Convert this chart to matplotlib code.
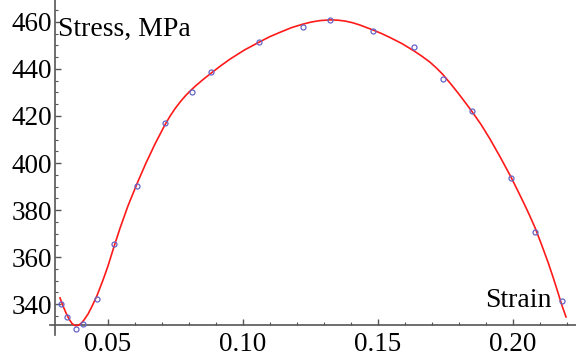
import matplotlib
matplotlib.use("Agg")
import matplotlib.pyplot as plt
from matplotlib.ticker import FixedLocator

plt.rcParams['font.family'] = ['Liberation Serif', 'DejaVu Serif']

# measured points (strain, stress MPa)
strain_pts = [0.0326, 0.0347, 0.0381, 0.0409, 0.0461, 0.0522, 0.0606, 0.0712,
              0.0810, 0.0881, 0.1060, 0.1223, 0.1322, 0.1483, 0.1634, 0.1740,
              0.1847, 0.1992, 0.2081, 0.2180]
stress_pts = [340.0, 334.5, 329.4, 331.7, 342.0, 365.5, 390.2, 417.1,
              430.1, 438.6, 451.6, 457.7, 460.9, 456.2, 449.2, 435.6,
              422.1, 393.7, 370.5, 341.3]

# fitted curve
strain_fit = [0.03222, 0.03333, 0.03444, 0.03556, 0.03667, 0.03778, 0.03889, 0.04000,
              0.04111, 0.04259, 0.04407, 0.04593, 0.04815, 0.05000, 0.05222, 0.05444,
              0.05741, 0.06074, 0.06407, 0.06741, 0.07111, 0.07296, 0.07481, 0.07667,
              0.07852, 0.08037, 0.08222, 0.08519, 0.08815, 0.09167, 0.09519, 0.10056,
              0.10593, 0.10981, 0.11370, 0.11796, 0.12222, 0.12537, 0.12852, 0.13222,
              0.13500, 0.13778, 0.14056, 0.14333, 0.14815, 0.15130, 0.15444, 0.15889,
              0.16333, 0.16630, 0.16926, 0.17167, 0.17407, 0.17685, 0.17963, 0.18222,
              0.18481, 0.18815, 0.19148, 0.19537, 0.19926, 0.20185, 0.20444, 0.20630,
              0.20815, 0.21056, 0.21296, 0.21481, 0.21667, 0.21815, 0.21963]
stress_fit = [342.6, 339.2, 336.2, 333.6, 331.7, 330.8, 330.9, 331.7,
              333.2, 335.7, 339.0, 343.6, 350.2, 356.2, 364.4, 372.2,
              381.8, 391.2, 400.0, 408.1, 416.3, 419.9, 423.1, 425.9,
              428.4, 430.6, 432.6, 435.5, 438.2, 441.3, 444.2, 448.1,
              451.4, 453.7, 455.6, 457.6, 459.1, 460.0, 460.6, 460.9,
              460.8, 460.4, 459.7, 458.7, 456.6, 455.1, 453.4, 450.8,
              447.7, 445.4, 442.9, 440.4, 437.6, 433.8, 429.8, 425.9,
              421.9, 416.4, 410.2, 402.3, 394.0, 388.0, 381.9, 377.3,
              372.5, 365.3, 357.8, 351.5, 344.8, 339.3, 334.5]

xticks = [0.05, 0.10, 0.15, 0.20]
xticklabels = ["0.05", "0.10", "0.15", "0.20"]
yticks = [340, 360, 380, 400, 420, 440, 460]
yticklabels = ["340", "360", "380", "400", "420", "440", "460"]

fig = plt.figure(figsize=(5.76, 3.57), dpi=100)
ax = fig.add_axes([0, 0, 1, 1])
ax.set_facecolor('white')

ax.set_xlim(0.0100, 0.22333)
ax.set_ylim(317.45, 469.36)

x0, y0 = 0.03037, 331.06
axis_col = '#555555'
ax.spines['left'].set_position(('data', x0))
ax.spines['bottom'].set_position(('data', y0))
ax.spines['left'].set_bounds(327.0, 469.36)
ax.spines['bottom'].set_bounds(0.0285, 0.22333)
for s in ['right', 'top']:
    ax.spines[s].set_visible(False)
for s in ['left', 'bottom']:
    ax.spines[s].set_color(axis_col)
    ax.spines[s].set_linewidth(1.2)

ax.plot(strain_fit, stress_fit, color='#ff1a1a', lw=1.2, zorder=3,
        solid_joinstyle='round')
ax.plot(strain_pts, stress_pts, linestyle='none', marker='o', markersize=3.6,
        markerfacecolor='none', markeredgecolor='#6464c8', markeredgewidth=0.9,
        zorder=4)

ax.set_xticks(xticks)
ax.set_xticklabels(xticklabels)
ax.set_yticks(yticks)
ax.set_yticklabels(yticklabels)
ax.xaxis.set_minor_locator(FixedLocator([0.04, 0.06, 0.07, 0.08, 0.09, 0.11, 0.12, 0.13,
                                         0.14, 0.16, 0.17, 0.18, 0.19, 0.21, 0.22]))
ax.yaxis.set_minor_locator(FixedLocator([335, 345, 350, 355, 365, 370, 375, 385, 390, 395,
                                         405, 410, 415, 425, 430, 435, 445, 450, 455, 465]))
ax.tick_params(axis='both', which='major', direction='in', length=4, width=1.0,
               color=axis_col, labelsize=19.5, labelcolor='black')
ax.tick_params(axis='both', which='minor', direction='in', length=2, width=0.8,
               color=axis_col)
ax.tick_params(axis='x', which='major', pad=5)
ax.tick_params(axis='y', which='major', pad=2)

ax.text(0.03148, 454.0, "Stress, MPa", fontsize=20, ha='left', va='baseline', color='black')
ax.text(0.2143, 338.6, "Strain", fontsize=20, ha='right', va='baseline', color='black')

fig.savefig("out.png", dpi=100, facecolor='white')
